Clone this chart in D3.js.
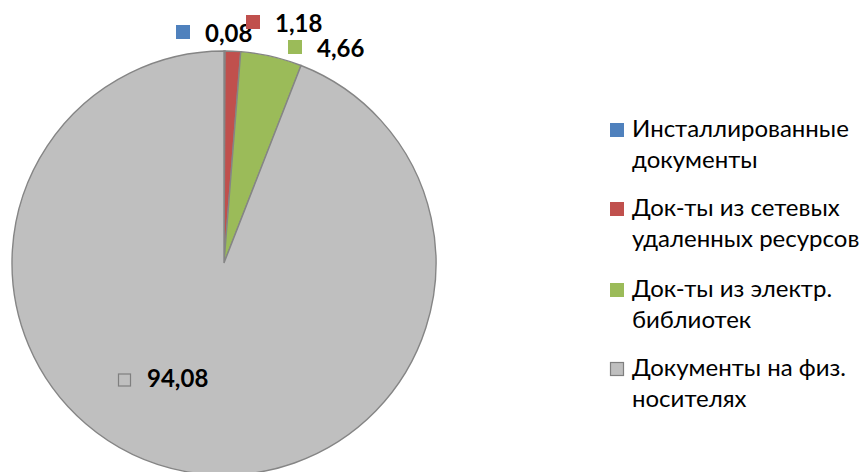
<!DOCTYPE html>
<html>
<head>
<meta charset="utf-8">
<script src="https://cdn.jsdelivr.net/npm/d3@7"></script>
<style>
  body { margin: 0; background: #fff; }
  text { font-family: Lato, "Noto Sans", sans-serif; }
</style>
</head>
<body>
<svg id="chart" width="865" height="472"></svg>
<script>
const categories = ['Инсталлированные документы', 'Док-ты из сетевых удаленных ресурсов', 'Док-ты из электр. библиотек', 'Документы на физ. носителях']
const values = [0.08, 1.18, 4.66, 94.08]
const valueLabels = ['0,08', '1,18', '4,66', '94,08']
const legendLines = [['Инсталлированные', 'документы'], ['Док-ты из сетевых', 'удаленных ресурсов'], ['Док-ты из электр.', 'библиотек'], ['Документы на физ.', 'носителях']]
const colors = ['#4F81BD', '#C0504D', '#9BBB59', '#BFBFBF']

// where each value label sits (square left, text baseline), relative to pie centre
const labelOffsets = [[-48, -221], [22, -231], [64, -206], [-106, 124]]

const cx = 224
const cy = 263
const radius = 212

const svg = d3.select('#chart')

const pie = d3.pie().sort(null).value(d => d)
const arcs = pie(values)
const arc = d3.arc().innerRadius(0).outerRadius(radius)

const g = svg.append('g').attr('transform', `translate(${cx},${cy})`)

g.selectAll('path')
    .data(arcs)
    .join('path')
    .attr('d', arc)
    .attr('fill', (d, i) => colors[i])
    .attr('stroke', '#858585')
    .attr('stroke-width', 1.4)

const labels = g.selectAll('g.label')
    .data(arcs)
    .join('g')
    .attr('class', 'label')
    .attr('transform', (d, i) => `translate(${labelOffsets[i][0]},${labelOffsets[i][1]})`)

labels.append('rect')
    .attr('x', (d, i) => i === 3 ? 0.5 : 0)
    .attr('y', (d, i) => i === 3 ? -13 : -17)
    .attr('width', (d, i) => i === 3 ? 12 : 14)
    .attr('height', (d, i) => i === 3 ? 12 : 14)
    .attr('fill', (d, i) => colors[i])
    .attr('stroke', (d, i) => i === 3 ? '#7f7f7f' : 'none')
    .attr('stroke-width', 1.2)

labels.append('text')
    .attr('x', 29)
    .attr('y', 0)
    .attr('font-size', 24)
    .attr('font-weight', 'bold')
    .attr('fill', '#000')
    .text((d, i) => valueLabels[i])

const legend = svg.append('g').attr('transform', 'translate(610,0)')
const rowY = [137, 216, 297, 376]

const items = legend.selectAll('g')
    .data(categories)
    .join('g')
    .attr('transform', (d, i) => `translate(0,${rowY[i]})`)

items.append('rect')
    .attr('x', (d, i) => i === 3 ? 0.5 : 0)
    .attr('y', (d, i) => i === 3 ? -13.5 : -14)
    .attr('width', (d, i) => i === 3 ? 13 : 14)
    .attr('height', (d, i) => i === 3 ? 13 : 14)
    .attr('fill', (d, i) => colors[i])
    .attr('stroke', (d, i) => i === 3 ? '#7f7f7f' : 'none')
    .attr('stroke-width', 1.2)

items.append('text')
    .attr('font-size', 24)
    .attr('fill', '#000')
    .selectAll('tspan')
    .data((d, i) => legendLines[i])
    .join('tspan')
    .attr('x', 22)
    .attr('y', (d, j) => j * 30.5)
    .text(d => d)
</script>
</body>
</html>
